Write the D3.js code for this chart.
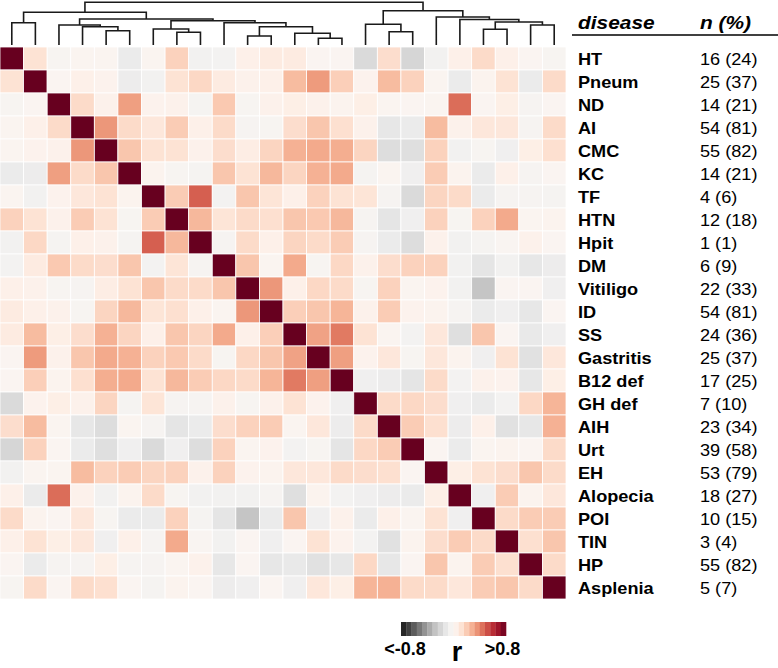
<!DOCTYPE html>
<html><head><meta charset="utf-8">
<script src="https://cdn.jsdelivr.net/npm/d3@7"></script>
<style>body{margin:0;background:#fff} svg{display:block}</style>
</head><body>
<svg id="chart" width="778" height="668"></svg>
<script>
const diseases = ["HT","Pneum","ND","AI","CMC","KC","TF","HTN","Hpit","DM","Vitiligo","ID","SS","Gastritis","B12 def","GH def","AIH","Urt","EH","Alopecia","POI","TIN","HP","Asplenia"];
const counts = ["16 (24)","25 (37)","14 (21)","54 (81)","55 (82)","14 (21)","4 (6)","12 (18)","1 (1)","6 (9)","22 (33)","54 (81)","24 (36)","25 (37)","17 (25)","7 (10)","23 (34)","39 (58)","53 (79)","18 (27)","10 (15)","3 (4)","55 (82)","5 (7)"];
const headers = ["disease", "n (%)"];
const legendTicks = ["<-0.8", ">0.8"];
const legendTitle = "r";
const legendDomain = [-0.8, 0.8];

// upper triangle of the correlation matrix (row i holds r with columns i+1..23)
const corrUpper = [
 [0.12,-0.02,0.01,0.01,-0.1,0.01,0.18,-0.06,-0.05,0.05,0.08,0.08,0.0,0.0,-0.18,0.14,-0.2,-0.06,0.05,0.15,0.05,0.0,-0.02],
 [0.0,0.05,0.03,-0.09,-0.06,0.12,0.16,0.08,0.04,0.05,0.25,0.34,0.19,0.03,0.25,0.18,0.01,-0.1,0.02,0.12,-0.1,0.15],
 [0.15,0.04,0.33,0.03,0.04,-0.04,0.21,-0.02,0.04,0.06,0.04,0.02,0.06,0.01,0.0,0.01,0.45,0.0,0.06,-0.03,0.0],
 [0.35,0.15,0.1,0.2,0.05,0.15,-0.03,-0.02,0.14,0.22,0.13,0.04,-0.12,-0.1,0.25,0.04,0.1,0.1,-0.03,0.15],
 [0.22,0.12,0.12,0.04,0.14,0.07,0.17,0.28,0.3,0.29,0.17,-0.17,-0.16,0.18,-0.06,-0.02,-0.07,0.06,0.13],
 [0.02,-0.02,-0.04,0.22,0.12,0.26,0.17,0.28,0.3,-0.04,0.01,-0.07,0.2,0.02,-0.1,0.05,-0.03,0.0],
 [0.2,0.48,-0.05,0.22,0.11,0.05,0.18,0.12,0.11,-0.03,-0.18,0.17,0.15,-0.1,-0.03,-0.03,-0.04],
 [0.26,0.11,0.15,0.13,0.22,0.21,0.26,-0.03,-0.13,-0.07,0.18,-0.02,0.18,0.3,0.01,0.02],
 [-0.03,0.15,0.05,0.17,0.15,0.2,-0.03,-0.1,-0.17,0.04,-0.06,-0.04,-0.01,0.04,0.0],
 [0.22,0.01,0.3,-0.02,0.16,0.04,0.14,0.18,0.18,-0.06,-0.13,-0.06,-0.12,-0.09],
 [0.35,0.05,0.16,0.15,-0.02,0.18,0.01,0.03,-0.06,-0.27,0.0,0.0,-0.07],
 [0.19,0.22,0.27,0.04,0.2,0.03,0.02,-0.03,-0.1,-0.07,-0.12,0.0],
 [0.32,0.42,0.12,0.01,-0.05,0.1,-0.16,0.22,0.0,-0.11,-0.07],
 [0.33,0.03,0.1,-0.02,0.1,0.02,-0.07,0.12,-0.15,0.1],
 [-0.07,-0.09,-0.13,0.15,-0.05,0.04,0.03,-0.12,0.06],
 [0.15,0.16,0.14,-0.07,-0.1,-0.05,0.16,0.27],
 [0.2,0.13,-0.09,0.05,-0.15,-0.12,0.28],
 [0.0,-0.1,0.01,0.02,0.0,0.15],
 [0.06,0.12,0.14,0.22,0.15],
 [-0.07,0.2,0.02,0.1],
 [0.15,0.2,0.2],
 [0.13,0.22],
 [0.15]
];

// hclust-style merges: negative = leaf (-1 is first disease), positive = earlier merge (1-based); third = height (root = 1)
const merges = [
 [-14,-15,0.157],[-11,-12,0.211],[-13,1,0.274],[-8,-9,0.297],[-17,-18,0.311],
 [-5,-6,0.335],[-21,-22,0.368],[-7,4,0.375],[2,3,0.429],[-4,6,0.429],
 [-23,-24,0.468],[-3,10,0.468],[-16,5,0.485],[-1,-2,0.522],[-10,9,0.522],
 [7,11,0.539],[8,15,0.569],[-20,16,0.597],[12,17,0.609],[-19,18,0.656],
 [14,19,0.766],[13,20,0.803],[21,22,1.0]
];

const n = diseases.length;
const matrix = diseases.map((_, i) => diseases.map((_, j) =>
  i === j ? 1 : (i < j ? corrUpper[i][j - i - 1] : corrUpper[j][i - j - 1])));

const svg = d3.select("#chart");
const x = d3.scaleBand().domain(d3.range(n)).range([0, 566]);
const y = d3.scaleBand().domain(d3.range(n)).range([47, 599]);
const color = d3.scaleSequential(t => d3.interpolateRdGy(1 - t)).domain(legendDomain).clamp(true);

// cells
const cells = [];
matrix.forEach((row, i) => row.forEach((v, j) => cells.push({i, j, v})));
svg.append("g").selectAll("rect").data(cells).join("rect")
  .attr("x", d => x(d.j)).attr("y", d => y(d.i))
  .attr("width", x.bandwidth()).attr("height", y.bandwidth())
  .attr("fill", d => color(d.v))
  .attr("stroke", "#fff").attr("stroke-width", 0.8);

// dendrogram
const hY = d3.scaleLinear().domain([0, 1]).range([45, 2.3]);
const nodes = [];
const pos = ref => ref < 0 ? {x: x(-ref - 1) + x.bandwidth() / 2, h: 0} : nodes[ref - 1];
merges.forEach(([a, b, h]) => { const A = pos(a), B = pos(b); nodes.push({x: (A.x + B.x) / 2, h, A, B}); });
const p = d3.path();
nodes.forEach(nd => {
  p.moveTo(nd.A.x, hY(nd.A.h)); p.lineTo(nd.A.x, hY(nd.h));
  p.lineTo(nd.B.x, hY(nd.h)); p.lineTo(nd.B.x, hY(nd.B.h));
});
svg.append("path").attr("d", p.toString()).attr("fill", "none")
  .attr("stroke", "#1a1a1a").attr("stroke-width", 1.6);

// labels
const font = "'Liberation Sans', Arial, sans-serif";
const sx = 1.1;
const lab = svg.append("g").attr("font-family", font).attr("fill", "#000");
lab.selectAll("text.d").data(diseases).join("text").attr("class", "d")
  .attr("transform", (d, i) => `translate(578,${y(i) + y.bandwidth() / 2 + 6}) scale(${sx},1)`)
  .attr("font-size", 16.5).attr("font-weight", "bold").text(d => d);
lab.selectAll("text.c").data(counts).join("text").attr("class", "c")
  .attr("transform", (d, i) => `translate(700,${y(i) + y.bandwidth() / 2 + 6}) scale(${sx},1)`)
  .attr("font-size", 16.5).text(d => d);
lab.selectAll("text.h").data(headers).join("text").attr("class", "h")
  .attr("transform", (d, i) => `translate(${i ? 700 : 578},29) scale(${sx},1)`)
  .attr("font-size", 19).attr("font-weight", "bold").attr("font-style", "italic").text(d => d);
svg.append("line").attr("x1", 572).attr("x2", 778).attr("y1", 35).attr("y2", 35)
  .attr("stroke", "#000").attr("stroke-width", 1.5);

// legend
const lx = d3.scaleLinear().domain(legendDomain).range([401, 506]);
const steps = 20;
const stepVals = d3.range(steps).map(k => legendDomain[0] + (k + 0.5) * (legendDomain[1] - legendDomain[0]) / steps);
const sw = (lx.range()[1] - lx.range()[0]) / steps;
svg.append("g").selectAll("rect").data(stepVals).join("rect")
  .attr("x", d => lx(d) - sw / 2).attr("y", 622).attr("width", sw + 0.3).attr("height", 14)
  .attr("fill", d => color(d));
const lg = svg.append("g").attr("font-family", font).attr("font-weight", "bold").attr("text-anchor", "middle");
lg.selectAll("text.t").data(legendTicks).join("text").attr("class", "t")
  .attr("x", (d, i) => i ? 502.5 : 405).attr("y", 655).attr("font-size", 18).text(d => d);
lg.append("text").attr("x", 457).attr("y", 661).attr("font-size", 27).text(legendTitle);
</script>
</body></html>
